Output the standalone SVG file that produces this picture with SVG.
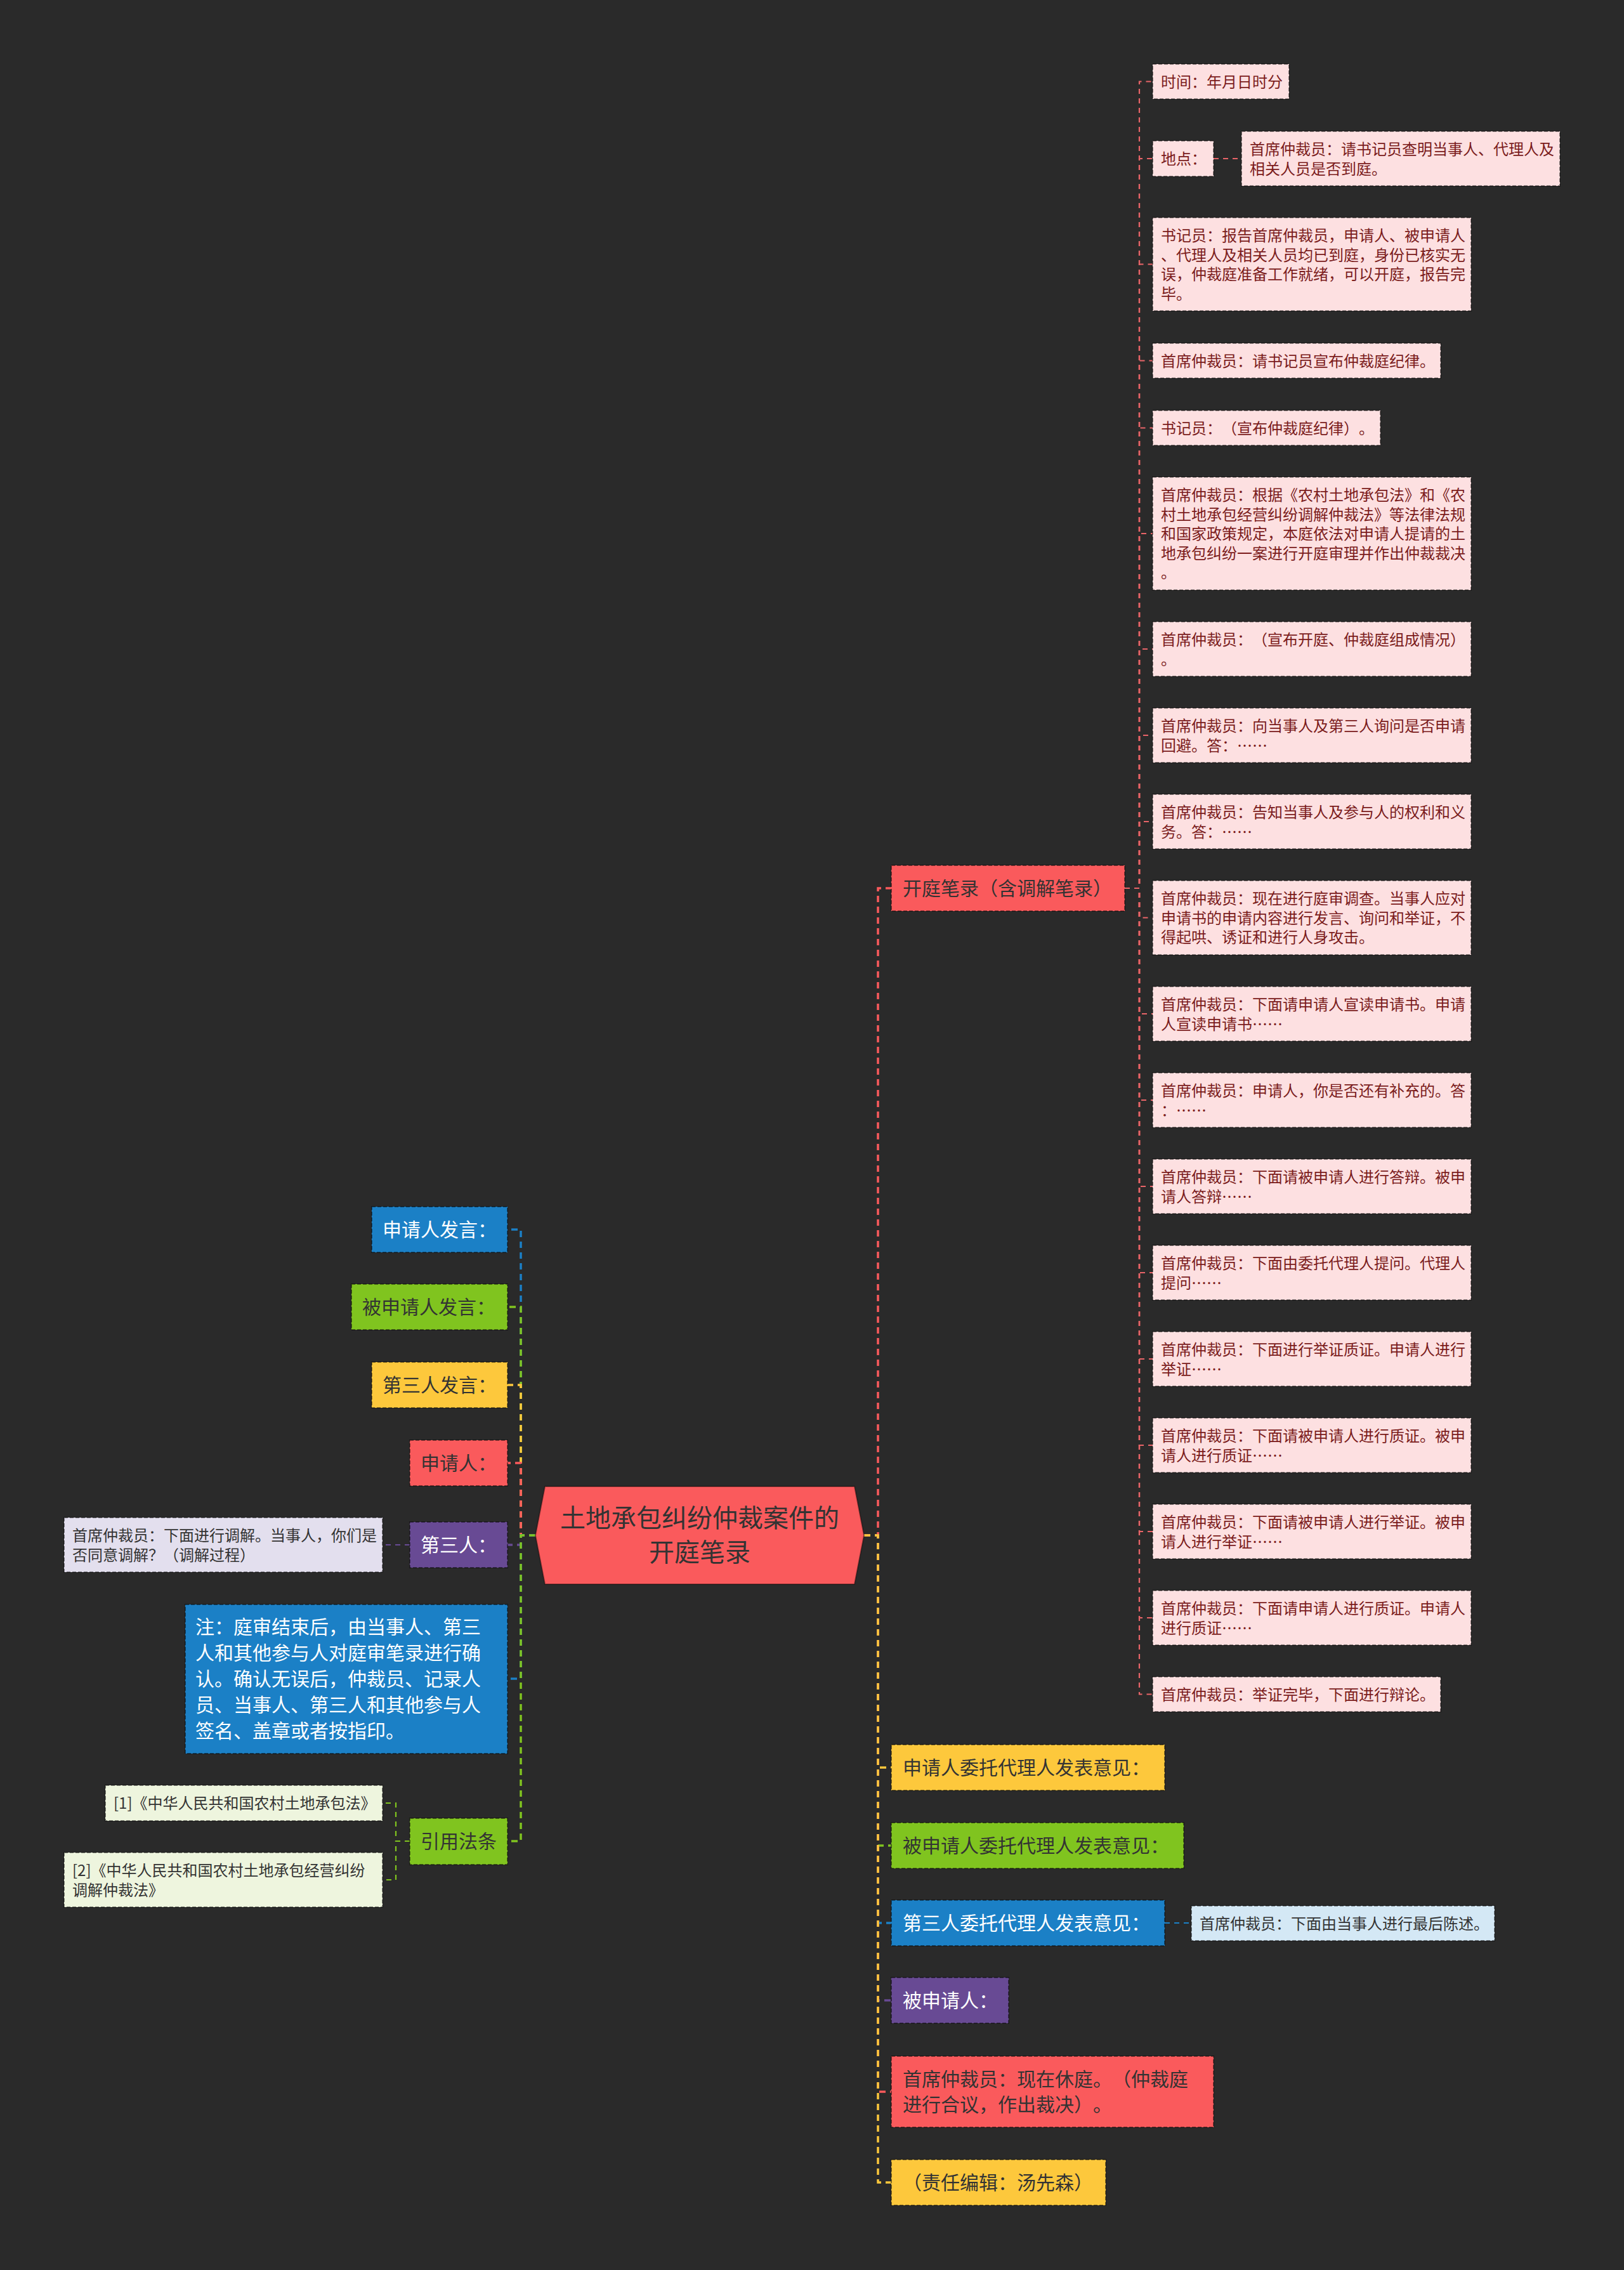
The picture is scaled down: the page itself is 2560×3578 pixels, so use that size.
<svg xmlns="http://www.w3.org/2000/svg" width="2560" height="3578" viewBox="0 0 2560 3578">
<style>
text{font-family:"Noto Sans CJK SC","Noto Sans",sans-serif;text-spacing-trim:space-all;}
.n{stroke:rgba(0,0,0,0.45);stroke-width:2;stroke-dasharray:6 3;}
.pink{fill:#fde0e1;}
.red{fill:#fa5a5c;}
.blue{fill:#1b80c6;}
.green{fill:#80c41f;}
.yellow{fill:#fdc83c;}
.purple{fill:#684a94;}
.lav{fill:#e3dfee;}
.lgreen{fill:#eef5de;}
.lblue{fill:#d4e8f5;}
.t24{font-size:24px;}
.t30{font-size:30px;}
.t40{font-size:40px;}
.tw{fill:#ffffff;}
.td{fill:#333333;}
.tr{fill:#7b1c1c;}
.c{fill:none;stroke-width:3.5;stroke-dasharray:10 7;}
.cs{fill:none;stroke-width:2.2;stroke-dasharray:8 7;}
.sr{stroke:#fa5a5c;}
.sb{stroke:#1b80c6;}
.sg{stroke:#80c41f;}
.sy{stroke:#fdc83c;}
.sp{stroke:#684a94;}
.spk{stroke:#e86468;}
</style>
<rect x="0" y="0" width="2560" height="3578" fill="#2a2a2a"/>

<g id="connectors">
  <path class="c sb" d="M844,2420 H821 V1938 H800"/>
  <path class="c sg" d="M844,2420 H821 V2060 H800"/>
  <path class="c sy" d="M844,2420 H821 V2183 H800"/>
  <path class="c sr" d="M844,2420 H821 V2306 H800"/>
  <path class="c sp" d="M844,2420 H821 V2435 H800"/>
  <path class="c sb" d="M844,2420 H821 V2646 H800"/>
  <path class="c sg" d="M844,2420 H821 V2902 H800"/>
  <path class="c sr" d="M1362,2420 H1384 V1400 H1405"/>
  <path class="c sy" d="M1362,2420 H1384 V2786 H1405"/>
  <path class="c sg" d="M1362,2420 H1384 V2909 H1405"/>
  <path class="c sb" d="M1362,2420 H1384 V3031 H1405"/>
  <path class="c sp" d="M1362,2420 H1384 V3153 H1405"/>
  <path class="c sr" d="M1362,2420 H1384 V3297 H1405"/>
  <path class="c sy" d="M1362,2420 H1384 V3440 H1405"/>
  <path class="cs spk" d="M1773,1400 H1796 V128.5 H1817"/>
  <path class="cs spk" d="M1773,1400 H1796 V250 H1817"/>
  <path class="cs spk" d="M1773,1400 H1796 V416.5 H1817"/>
  <path class="cs spk" d="M1773,1400 H1796 V568.5 H1817"/>
  <path class="cs spk" d="M1773,1400 H1796 V674.5 H1817"/>
  <path class="cs spk" d="M1773,1400 H1796 V841 H1817"/>
  <path class="cs spk" d="M1773,1400 H1796 V1023 H1817"/>
  <path class="cs spk" d="M1773,1400 H1796 V1159 H1817"/>
  <path class="cs spk" d="M1773,1400 H1796 V1295 H1817"/>
  <path class="cs spk" d="M1773,1400 H1796 V1446.5 H1817"/>
  <path class="cs spk" d="M1773,1400 H1796 V1598 H1817"/>
  <path class="cs spk" d="M1773,1400 H1796 V1734 H1817"/>
  <path class="cs spk" d="M1773,1400 H1796 V1870 H1817"/>
  <path class="cs spk" d="M1773,1400 H1796 V2006 H1817"/>
  <path class="cs spk" d="M1773,1400 H1796 V2142 H1817"/>
  <path class="cs spk" d="M1773,1400 H1796 V2278 H1817"/>
  <path class="cs spk" d="M1773,1400 H1796 V2414 H1817"/>
  <path class="cs spk" d="M1773,1400 H1796 V2550 H1817"/>
  <path class="cs spk" d="M1773,1400 H1796 V2670.5 H1817"/>
  <path class="cs spk" d="M1913,250 H1957"/>
  <path class="cs sp" d="M646,2435 H603"/>
  <path class="cs sg" d="M646,2902 H624 V2842 H603"/>
  <path class="cs sg" d="M646,2902 H624 V2963 H603"/>
  <path class="cs sb" d="M1836,3031 H1878"/>
</g>

<g id="root">
  <polygon class="red" points="844,2420 859,2343 1347,2343 1362,2420 1347,2497 859,2497" stroke="rgba(0,0,0,0.4)" stroke-width="2"/>
  <text class="t40 td" x="1103" y="2407" text-anchor="middle">土地承包纠纷仲裁案件的</text>
  <text class="t40 td" x="1103" y="2461" text-anchor="middle">开庭笔录</text>
</g>

<g id="n-shenqingren-fayan">
  <rect class="n blue" x="586" y="1902" width="214" height="72"/>
  <text class="t30 tw" x="603" y="1948.5">申请人发言：</text>
</g>
<g id="n-beishenqingren-fayan">
  <rect class="n green" x="554" y="2024" width="246" height="72"/>
  <text class="t30 td" x="571" y="2070.5">被申请人发言：</text>
</g>
<g id="n-disanren-fayan">
  <rect class="n yellow" x="586" y="2147" width="214" height="72"/>
  <text class="t30 td" x="603" y="2193.5">第三人发言：</text>
</g>
<g id="n-shenqingren">
  <rect class="n red" x="646" y="2270" width="154" height="72"/>
  <text class="t30 td" x="663" y="2316.5">申请人：</text>
</g>
<g id="n-disanren">
  <rect class="n purple" x="646" y="2399" width="154" height="72"/>
  <text class="t30 tw" x="663" y="2445.5">第三人：</text>
</g>
<g id="n-tiaojie">
  <rect class="n lav" x="101" y="2392" width="502" height="86"/>
  <text class="t24 td" x="114" y="2429">首席仲裁员：下面进行调解。当事人，你们是<tspan x="114" dy="30.5">否同意调解？（调解过程）</tspan></text>
</g>
<g id="n-zhu">
  <rect class="n blue" x="292" y="2529" width="508" height="235"/>
  <text class="t30 tw" x="308" y="2575">注：庭审结束后，由当事人、第三<tspan x="308" dy="41">人和其他参与人对庭审笔录进行确</tspan><tspan x="308" dy="41">认。确认无误后，仲裁员、记录人</tspan><tspan x="308" dy="41">员、当事人、第三人和其他参与人</tspan><tspan x="308" dy="41">签名、盖章或者按指印。</tspan></text>
</g>
<g id="n-yinyong">
  <rect class="n green" x="646" y="2866" width="154" height="73"/>
  <text class="t30 td" x="663" y="2913">引用法条</text>
</g>
<g id="n-law1">
  <rect class="n lgreen" x="166" y="2814" width="437" height="56"/>
  <text class="t24 td" x="179" y="2851">[1]《中华人民共和国农村土地承包法》</text>
</g>
<g id="n-law2">
  <rect class="n lgreen" x="101" y="2920" width="502" height="86"/>
  <text class="t24 td" x="114" y="2957">[2]《中华人民共和国农村土地承包经营纠纷<tspan x="114" dy="30.5">调解仲裁法》</tspan></text>
</g>

<g id="n-kaiting">
  <rect class="n red" x="1405" y="1364" width="368" height="72"/>
  <text class="t30 td" x="1423" y="1410.5">开庭笔录（含调解笔录）</text>
</g>
<g id="n-a">
  <rect class="n pink" x="1817" y="101" width="215" height="55"/>
  <text class="t24 tr" x="1830" y="138">时间：年月日时分</text>
</g>
<g id="n-b">
  <rect class="n pink" x="1817" y="222" width="96" height="56"/>
  <text class="t24 tr" x="1830" y="259">地点：</text>
</g>
<g id="n-b1">
  <rect class="n pink" x="1957" y="207" width="502" height="86"/>
  <text class="t24 tr" x="1970" y="244">首席仲裁员：请书记员查明当事人、代理人及<tspan x="1970" dy="30.5">相关人员是否到庭。</tspan></text>
</g>
<g id="n-c">
  <rect class="n pink" x="1817" y="343" width="502" height="147"/>
  <text class="t24 tr" x="1830" y="380">书记员：报告首席仲裁员，申请人、被申请人<tspan x="1830" dy="30.5">、代理人及相关人员均已到庭，身份已核实无</tspan><tspan x="1830" dy="30.5">误，仲裁庭准备工作就绪，可以开庭，报告完</tspan><tspan x="1830" dy="30.5">毕。</tspan></text>
</g>
<g id="n-d">
  <rect class="n pink" x="1817" y="541" width="454" height="55"/>
  <text class="t24 tr" x="1830" y="578">首席仲裁员：请书记员宣布仲裁庭纪律。</text>
</g>
<g id="n-e">
  <rect class="n pink" x="1817" y="647" width="359" height="55"/>
  <text class="t24 tr" x="1830" y="684">书记员：（宣布仲裁庭纪律）。</text>
</g>
<g id="n-f">
  <rect class="n pink" x="1817" y="752" width="502" height="178"/>
  <text class="t24 tr" x="1830" y="789">首席仲裁员：根据《农村土地承包法》和《农<tspan x="1830" dy="30.5">村土地承包经营纠纷调解仲裁法》等法律法规</tspan><tspan x="1830" dy="30.5">和国家政策规定，本庭依法对申请人提请的土</tspan><tspan x="1830" dy="30.5">地承包纠纷一案进行开庭审理并作出仲裁裁决</tspan><tspan x="1830" dy="30.5">。</tspan></text>
</g>
<g id="n-g">
  <rect class="n pink" x="1817" y="980" width="502" height="86"/>
  <text class="t24 tr" x="1830" y="1017">首席仲裁员：（宣布开庭、仲裁庭组成情况）<tspan x="1830" dy="30.5">。</tspan></text>
</g>
<g id="n-h">
  <rect class="n pink" x="1817" y="1116" width="502" height="86"/>
  <text class="t24 tr" x="1830" y="1153">首席仲裁员：向当事人及第三人询问是否申请<tspan x="1830" dy="30.5">回避。答：……</tspan></text>
</g>
<g id="n-i">
  <rect class="n pink" x="1817" y="1252" width="502" height="86"/>
  <text class="t24 tr" x="1830" y="1289">首席仲裁员：告知当事人及参与人的权利和义<tspan x="1830" dy="30.5">务。答：……</tspan></text>
</g>
<g id="n-j">
  <rect class="n pink" x="1817" y="1388" width="502" height="117"/>
  <text class="t24 tr" x="1830" y="1425">首席仲裁员：现在进行庭审调查。当事人应对<tspan x="1830" dy="30.5">申请书的申请内容进行发言、询问和举证，不</tspan><tspan x="1830" dy="30.5">得起哄、诱证和进行人身攻击。</tspan></text>
</g>
<g id="n-k">
  <rect class="n pink" x="1817" y="1555" width="502" height="86"/>
  <text class="t24 tr" x="1830" y="1592">首席仲裁员：下面请申请人宣读申请书。申请<tspan x="1830" dy="30.5">人宣读申请书……</tspan></text>
</g>
<g id="n-l">
  <rect class="n pink" x="1817" y="1691" width="502" height="86"/>
  <text class="t24 tr" x="1830" y="1728">首席仲裁员：申请人，你是否还有补充的。答<tspan x="1830" dy="30.5">：……</tspan></text>
</g>
<g id="n-m">
  <rect class="n pink" x="1817" y="1827" width="502" height="86"/>
  <text class="t24 tr" x="1830" y="1864">首席仲裁员：下面请被申请人进行答辩。被申<tspan x="1830" dy="30.5">请人答辩……</tspan></text>
</g>
<g id="n-n">
  <rect class="n pink" x="1817" y="1963" width="502" height="86"/>
  <text class="t24 tr" x="1830" y="2000">首席仲裁员：下面由委托代理人提问。代理人<tspan x="1830" dy="30.5">提问……</tspan></text>
</g>
<g id="n-o">
  <rect class="n pink" x="1817" y="2099" width="502" height="86"/>
  <text class="t24 tr" x="1830" y="2136">首席仲裁员：下面进行举证质证。申请人进行<tspan x="1830" dy="30.5">举证……</tspan></text>
</g>
<g id="n-p">
  <rect class="n pink" x="1817" y="2235" width="502" height="86"/>
  <text class="t24 tr" x="1830" y="2272">首席仲裁员：下面请被申请人进行质证。被申<tspan x="1830" dy="30.5">请人进行质证……</tspan></text>
</g>
<g id="n-q">
  <rect class="n pink" x="1817" y="2371" width="502" height="86"/>
  <text class="t24 tr" x="1830" y="2408">首席仲裁员：下面请被申请人进行举证。被申<tspan x="1830" dy="30.5">请人进行举证……</tspan></text>
</g>
<g id="n-r">
  <rect class="n pink" x="1817" y="2507" width="502" height="86"/>
  <text class="t24 tr" x="1830" y="2544">首席仲裁员：下面请申请人进行质证。申请人<tspan x="1830" dy="30.5">进行质证……</tspan></text>
</g>
<g id="n-s">
  <rect class="n pink" x="1817" y="2643" width="454" height="55"/>
  <text class="t24 tr" x="1830" y="2680">首席仲裁员：举证完毕，下面进行辩论。</text>
</g>

<g id="n-sq-weituo">
  <rect class="n yellow" x="1405" y="2750" width="431" height="72"/>
  <text class="t30 td" x="1423" y="2796.5">申请人委托代理人发表意见：</text>
</g>
<g id="n-bsq-weituo">
  <rect class="n green" x="1405" y="2873" width="461" height="72"/>
  <text class="t30 td" x="1423" y="2919.5">被申请人委托代理人发表意见：</text>
</g>
<g id="n-dsr-weituo">
  <rect class="n blue" x="1405" y="2995" width="431" height="72"/>
  <text class="t30 tw" x="1423" y="3041.5">第三人委托代理人发表意见：</text>
</g>
<g id="n-chenshu">
  <rect class="n lblue" x="1878" y="3004" width="478" height="55"/>
  <text class="t24 td" x="1891" y="3041">首席仲裁员：下面由当事人进行最后陈述。</text>
</g>
<g id="n-beishenqingren">
  <rect class="n purple" x="1405" y="3117" width="185" height="72"/>
  <text class="t30 tw" x="1423" y="3163.5">被申请人：</text>
</g>
<g id="n-xiuting">
  <rect class="n red" x="1405" y="3241" width="508" height="112"/>
  <text class="t30 td" x="1423" y="3287.5">首席仲裁员：现在休庭。（仲裁庭<tspan x="1423" dy="40">进行合议，作出裁决）。</tspan></text>
</g>
<g id="n-bianji">
  <rect class="n yellow" x="1405" y="3404" width="338" height="72"/>
  <text class="t30 td" x="1423" y="3450.5">（责任编辑：汤先森）</text>
</g>
</svg>
